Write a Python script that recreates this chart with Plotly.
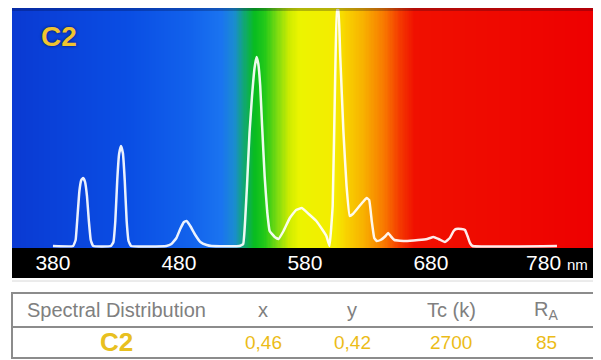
import plotly.graph_objects as go
import numpy as np

# ---- data ----
wavelength_nm = [380, 396, 398, 399.5, 401, 402.5, 404, 405.5, 407, 408.5, 410, 412,
                 426, 428, 429.5, 431, 432.5, 434, 435.5, 437, 438.5, 440, 442,
                 470, 474, 478, 481, 484, 486, 489, 493, 497, 502, 506,
                 528, 531, 532.5, 534, 536, 538, 540, 541.6, 543, 544.5, 546, 548, 550, 552,
                 556, 559, 563, 568, 573, 577.5, 583, 589, 594, 597, 599.5,
                 602, 604, 605.5, 606.5, 608, 610.5, 613, 615.5,
                 618, 622, 626, 629, 631, 633, 635, 637, 640, 644, 646, 648, 651,
                 660, 670, 677, 682, 686, 691, 695, 698, 700, 704, 707, 709, 711, 713, 780]
relative_power = [0, 0, 6, 30, 55, 66, 68, 64, 50, 25, 6, 0,
                  0, 4, 25, 65, 92, 100, 93, 65, 25, 5, 0,
                  0, 2, 8, 17, 24, 25, 20, 11, 4, 1, 0,
                  0, 2, 25, 60, 113, 150, 178, 189, 182, 160, 120, 70, 35, 15,
                  9, 7, 15, 28, 36, 38, 32, 25, 16, 10, 0,
                  40, 170, 236, 236, 190, 115, 60, 30,
                  32, 38, 44, 48, 46, 25, 8, 5, 6, 10, 13, 10, 6,
                  5, 6, 7, 9, 7, 4, 8, 15, 17, 17, 16, 10, 3, 0, 0]

tick_nm = [380, 480, 580, 680, 780]
tick_labels = ['380', '480', '580', '680', '780 <span style="font-size:15px">nm</span>']

lamp_name = 'C2'
table_headers = ['Spectral Distribution', 'x', 'y', 'Tc (k)', 'R<sub>A</sub>']
table_values = ['C2', '0,46', '0,42', '2700', '85']

# background spectrum gradient stops (nm, colour)
bg_stop_nm = [347.5, 385, 441, 489, 514, 524, 532, 540, 548, 558.5, 568, 576,
              604, 612, 627, 643, 655, 667, 809.4]
bg_stop_colors = ['#0a3ad2', '#0a42da', '#0a4ee4', '#1262ec', '#1a74f0', '#1a8cd0',
                  '#10a870', '#08bc20', '#20c818', '#80dc10', '#d0ec00', '#ecf400',
                  '#f4ec00', '#f8d400', '#f8b000', '#f87800', '#f43c00', '#f01000',
                  '#ee0000']

# ---- layout geometry (page pixels) ----
W, H = 601, 360
OFF = 8  # default page body margin
PL, PR, PT, PB = 12, 594, 8, 248
XMIN, XMAX = 347.5, 809.4
YMIN, YMAX = -2, 238


def px(x):
    return (x - PL) / (PR - PL)


def py(y):
    return (PB - y) / (PB - PT)


lo, hi = bg_stop_nm[0], bg_stop_nm[-1]
colorscale = [[(n - lo) / (hi - lo), c] for n, c in zip(bg_stop_nm, bg_stop_colors)]
grid = np.arange(XMIN, XMAX + 1, 1.0)

fig = go.Figure()
fig.add_trace(go.Heatmap(x=grid, y=[YMIN, YMAX], z=[grid, grid],
                         colorscale=colorscale, zmin=lo, zmax=hi,
                         showscale=False, hoverinfo='skip'))
fig.add_trace(go.Scatter(x=wavelength_nm, y=relative_power, mode='lines',
                         line=dict(color='rgba(255,255,255,0.92)', width=2.5,
                                   shape='spline', smoothing=0.3),
                         hoverinfo='skip', cliponaxis=False))

shapes = [
    dict(type='rect', xref='paper', yref='paper', x0=0, x1=1,
         y0=py(278), y1=py(248), fillcolor='black', line_width=0, layer='below'),
    dict(type='rect', xref='paper', yref='paper', x0=0, x1=1,
         y0=py(11), y1=1, fillcolor='rgba(0,0,30,0.25)', line_width=0, layer='above'),
    dict(type='line', xref='paper', yref='paper', x0=0, x1=1, y0=py(281), y1=py(281),
         line=dict(color='#d8d8d8', width=1)),
    dict(type='rect', xref='paper', yref='paper', x0=px(12), x1=px(594),
         y0=py(358), y1=py(293), line=dict(color='#8c8c8c', width=2)),
    dict(type='line', xref='paper', yref='paper', x0=px(12), x1=px(594),
         y0=py(327), y1=py(327), line=dict(color='#8c8c8c', width=2)),
]

col_x = [116, 263, 352, 451, 546]
annotations = [
    dict(text=lamp_name, xref='paper', yref='paper', x=px(59), y=py(36),
         showarrow=False, xanchor='center', yanchor='middle',
         font=dict(family='Liberation Sans', size=28, color='#f0c430',
                   weight='bold', shadow='0px 0px 3px #001060'))
]
for cx, h in zip(col_x, table_headers):
    annotations.append(dict(text=h, xref='paper', yref='paper', x=px(cx), y=py(310),
                            showarrow=False, xanchor='center', yanchor='middle',
                            font=dict(family='Liberation Sans', size=20, color='#808080')))
for i, (cx, v) in enumerate(zip(col_x, table_values)):
    annotations.append(dict(text=v, xref='paper', yref='paper', x=px(cx), y=py(342),
                            showarrow=False, xanchor='center', yanchor='middle',
                            font=dict(family='Liberation Sans',
                                      size=26 if i == 0 else 19,
                                      color='#e8c020' if i == 0 else '#ecbc18',
                                      weight='bold' if i == 0 else 'normal')))

fig.update_layout(
    width=W - OFF, height=H - OFF,
    margin=dict(l=PL - OFF, r=W - PR, t=PT - OFF, b=H - PB, pad=0),
    paper_bgcolor='white', plot_bgcolor='white',
    showlegend=False,
    xaxis=dict(range=[XMIN, XMAX], tickvals=tick_nm, ticktext=tick_labels,
               showgrid=False, zeroline=False, showline=False, ticks='',
               ticklabelstandoff=0,
               tickfont=dict(family='Liberation Sans', size=21, color='white'),
               fixedrange=True),
    yaxis=dict(range=[YMIN, YMAX], visible=False, fixedrange=True),
    shapes=shapes, annotations=annotations,
)

fig.write_html('out.html')
